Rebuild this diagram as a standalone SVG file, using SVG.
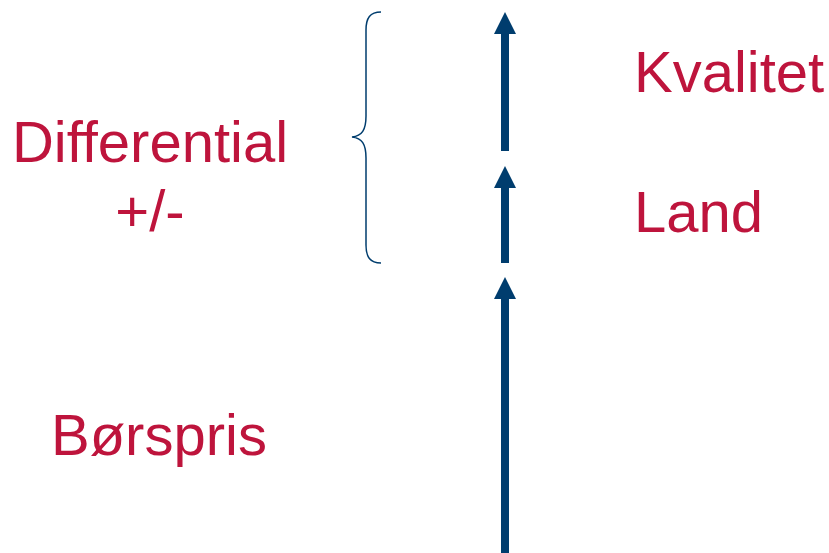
<svg xmlns="http://www.w3.org/2000/svg" width="829" height="553" viewBox="0 0 829 553">
  <style>
    .lbl { font-family: "Liberation Sans", Arial, sans-serif; font-size: 58px; fill: #BE143C; }
    .shaft { fill: #003D6E; }
    .brace { fill: none; stroke: #003D6E; stroke-width: 1.5; }
  </style>
  <rect width="829" height="553" fill="#ffffff"/>

  <!-- vertical arrows stacking price components -->
  <g id="connectors">
    <g id="arrow-kvalitet">
      <rect class="shaft" x="501" y="32" width="8" height="119"/>
      <polygon class="shaft" points="505,12 516,34 494,34"/>
    </g>
    <g id="arrow-land">
      <rect class="shaft" x="501" y="185" width="8" height="78"/>
      <polygon class="shaft" points="505,166 516,188 494,188"/>
    </g>
    <g id="arrow-borspris">
      <rect class="shaft" x="501" y="297" width="8" height="256"/>
      <polygon class="shaft" points="505,277 516,299 494,299"/>
    </g>
  </g>

  <!-- curly brace grouping the differential -->
  <g id="brace">
    <path class="brace" d="M381,12 C370,12 366,18 366,30 L366,116 C366,130 362,136 352,137 C362,138 366,144 366,158 L366,245 C366,257 370,263 381,263"/>
  </g>

  <g id="differential">
    <text class="lbl" x="150" y="162" text-anchor="middle">Differential</text>
    <text class="lbl" x="150" y="231" text-anchor="middle">+/-</text>
  </g>
  <g id="kvalitet">
    <text class="lbl" x="634" y="92">Kvalitet</text>
  </g>
  <g id="land">
    <text class="lbl" x="634" y="232">Land</text>
  </g>
  <g id="borspris">
    <text class="lbl" x="51" y="455">Børspris</text>
  </g>
</svg>
